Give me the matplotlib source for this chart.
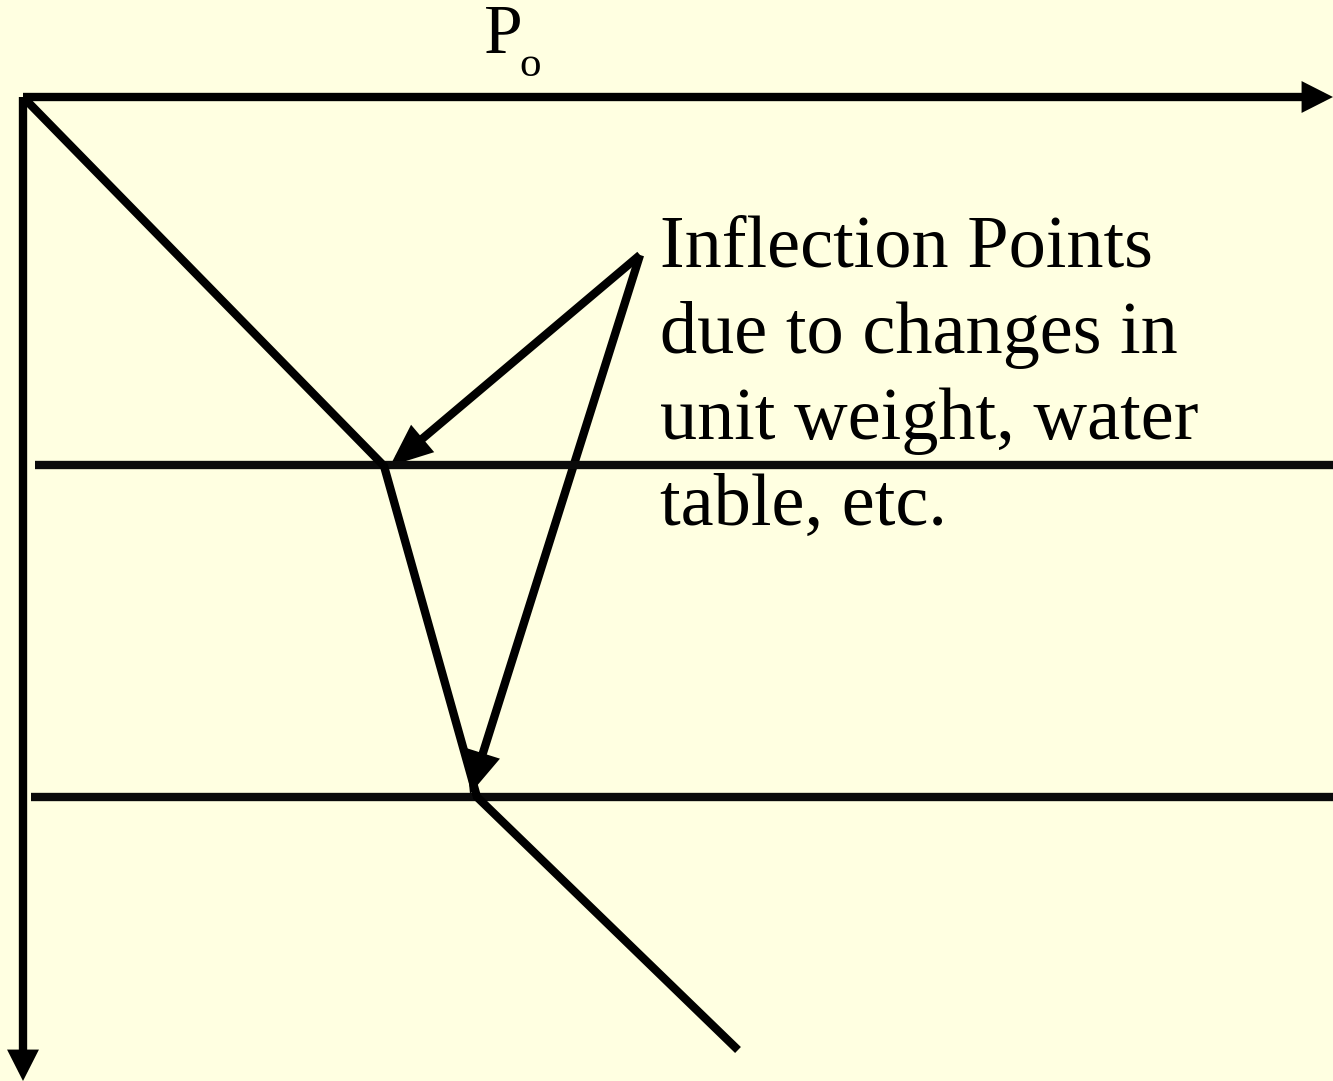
import matplotlib
matplotlib.use("Agg")
import matplotlib.pyplot as plt
from matplotlib.patches import FancyArrowPatch

# 图中数据（像素坐标系，原点在左上角）
origin = (23, 97)
axis_x_end = 1333
axis_y_end = 1081

# 有效应力剖面：折线各点
profile_x = [23, 384, 477, 738]
profile_y = [97, 466, 797, 1050]

# 土层分界线
layer_y = [465, 797]
layer_x_start = [35, 31]

# 标注文字与箭头
note_text = "Inflection Points\ndue to changes in\nunit weight, water\ntable, etc."
note_tail = (640, 255)
note_heads = [(390, 466), (470, 794)]

bg = "#FFFFE1"
lw = 6.0

fig = plt.figure(figsize=(13.33, 10.81), dpi=100)
fig.patch.set_facecolor(bg)
ax = fig.add_axes([0, 0, 1, 1])
ax.set_facecolor(bg)
ax.set_xlim(0, 1333)
ax.set_ylim(1081, 0)
ax.axis("off")


def arrow(p0, p1, hl, hw):
    a = FancyArrowPatch(p0, p1, arrowstyle=f"-|>,head_length={hl},head_width={hw}",
                        mutation_scale=20, lw=lw, color="black",
                        shrinkA=0, shrinkB=0, joinstyle="miter", capstyle="butt")
    ax.add_patch(a)


# 坐标轴
arrow(origin, (axis_x_end, origin[1]), 0.65, 0.33)
arrow(origin, (origin[0], axis_y_end), 0.65, 0.33)

# 土层分界线
for y, x0 in zip(layer_y, layer_x_start):
    ax.plot([x0, 1333], [y, y], color="#0a0a0a", lw=lw, solid_capstyle="butt")

# 剖面
ax.plot(profile_x, profile_y, color="black", lw=lw, solid_joinstyle="miter",
        solid_capstyle="butt")

# 标注箭头
for h in note_heads:
    arrow(note_tail, h, 1.0, 0.42)

ax.text(660, 215, note_text, fontsize=53.5, family="Liberation Serif",
        va="top", ha="left", linespacing=1.36)

ax.text(484, 53, "P", fontsize=50, family="Liberation Serif", va="baseline")
ax.text(519, 76, "o", fontsize=31, family="Liberation Serif", va="baseline")

fig.savefig("out.png", dpi=100, facecolor=bg)
